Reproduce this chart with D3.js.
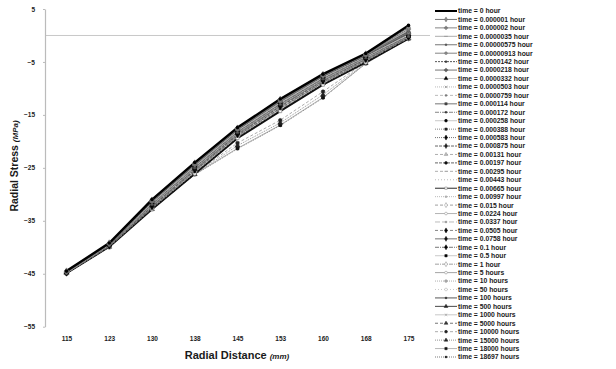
<!DOCTYPE html>
<html>
<head>
<meta charset="utf-8">
<script src="https://cdn.jsdelivr.net/npm/d3@7"></script>
<style>
  html, body { margin: 0; padding: 0; background: #fff; }
  svg { display: block; font-family: "Liberation Sans", Arial, sans-serif; }
</style>
</head>
<body>
<svg id="chart" width="616" height="369"></svg>
<script>
// Radial distance categories (mm)
const distances = ['115', '123', '130', '138', '145', '153', '160', '168', '175'];

// Y-axis tick values (MPa)
const yTicks = [5, -5, -15, -25, -35, -45, -55];

// Time steps, one series each
const timeLabels = [
  'time = 0 hour', 'time = 0.000001 hour', 'time = 0.000002 hour', 'time = 0.0000035 hour',
  'time = 0.00000575 hour', 'time = 0.00000913 hour', 'time = 0.0000142 hour', 'time = 0.0000218 hour',
  'time = 0.0000332 hour', 'time = 0.0000503 hour', 'time = 0.0000759 hour', 'time = 0.000114 hour',
  'time = 0.000172 hour', 'time = 0.000258 hour', 'time = 0.000388 hour', 'time = 0.000583 hour',
  'time = 0.000875 hour', 'time = 0.00131 hour', 'time = 0.00197 hour', 'time = 0.00295 hour',
  'time = 0.00443 hour', 'time = 0.00665 hour', 'time = 0.00997 hour', 'time = 0.015 hour',
  'time = 0.0224 hour', 'time = 0.0337 hour', 'time = 0.0505 hour', 'time = 0.0758 hour',
  'time = 0.1 hour', 'time = 0.5 hour', 'time = 1 hour', 'time = 5 hours',
  'time = 10 hours', 'time = 50 hours', 'time = 100 hours', 'time = 500 hours',
  'time = 1000 hours', 'time = 5000 hours', 'time = 10000 hours', 'time = 15000 hours',
  'time = 18000 hours', 'time = 18697 hours'
];

// Radial stress (MPa) per time step, one value per radial distance
const stressSeries = [
  [-44.5, -39.2, -31.0, -24.0, -17.4, -12.0, -7.3, -3.4, 1.9],
  [-44.5, -39.2, -31.1, -24.1, -17.5, -12.1, -7.4, -3.5, 1.5],
  [-44.6, -39.3, -31.1, -24.2, -17.5, -12.2, -7.4, -3.5, 1.2],
  [-44.6, -39.3, -31.2, -24.2, -17.6, -12.2, -7.5, -3.6, 1.0],
  [-44.6, -39.3, -31.2, -24.3, -17.6, -12.3, -7.5, -3.6, 0.8],
  [-44.6, -39.4, -31.3, -24.4, -17.7, -12.4, -7.6, -3.7, 0.6],
  [-44.6, -39.4, -31.4, -24.4, -17.8, -12.4, -7.7, -3.8, 0.5],
  [-44.7, -39.4, -31.4, -24.5, -17.8, -12.5, -7.7, -3.8, 0.3],
  [-44.7, -39.5, -31.5, -24.6, -17.9, -12.6, -7.8, -3.9, 0.2],
  [-44.7, -39.5, -31.6, -24.7, -18.0, -12.7, -7.9, -4.0, 0.1],
  [-44.7, -39.5, -31.7, -24.8, -18.1, -12.8, -8.0, -4.0, 0.0],
  [-44.7, -39.6, -31.8, -24.9, -18.2, -12.9, -8.1, -4.1, -0.1],
  [-44.7, -39.6, -31.9, -25.0, -18.3, -13.0, -8.2, -4.2, -0.1],
  [-44.8, -39.6, -32.0, -25.1, -18.4, -13.1, -8.3, -4.3, -0.2],
  [-44.8, -39.7, -32.1, -25.2, -18.5, -13.2, -8.4, -4.3, -0.2],
  [-44.8, -39.7, -32.2, -25.3, -18.6, -13.3, -8.5, -4.4, -0.3],
  [-44.8, -39.7, -32.3, -25.4, -18.7, -13.4, -8.6, -4.5, -0.3],
  [-44.8, -39.8, -32.4, -25.5, -18.8, -13.5, -8.7, -4.6, -0.4],
  [-44.8, -39.8, -32.5, -25.6, -18.9, -13.7, -8.8, -4.7, -0.4],
  [-44.9, -39.8, -32.6, -25.8, -19.0, -13.8, -8.9, -4.8, -0.5],
  [-44.9, -39.9, -32.7, -25.9, -19.2, -14.0, -9.1, -4.9, -0.5],
  [-44.9, -39.9, -32.8, -26.1, -19.4, -14.3, -9.3, -5.1, -0.6],
  [-44.9, -39.9, -32.7, -26.0, -19.3, -14.2, -9.2, -5.0, -0.6],
  [-44.9, -39.8, -32.6, -25.9, -19.1, -14.0, -9.0, -4.9, -0.5],
  [-44.8, -39.8, -32.5, -25.7, -19.0, -13.8, -8.9, -4.8, -0.5],
  [-44.8, -39.8, -32.4, -25.6, -18.9, -13.6, -8.8, -4.7, -0.4],
  [-44.8, -39.7, -32.3, -25.4, -18.7, -13.4, -8.6, -4.5, -0.4],
  [-44.8, -39.7, -32.1, -25.2, -18.5, -13.2, -8.4, -4.4, -0.3],
  [-44.7, -39.6, -32.0, -25.1, -18.4, -13.1, -8.3, -4.3, -0.3],
  [-44.7, -39.6, -31.8, -24.9, -18.2, -12.9, -8.1, -4.1, -0.2],
  [-44.7, -39.5, -31.7, -24.7, -18.0, -12.7, -7.9, -4.0, -0.2],
  [-44.7, -39.5, -31.5, -24.6, -17.9, -12.6, -7.8, -3.9, -0.1],
  [-44.6, -39.4, -31.4, -24.5, -17.8, -12.5, -7.7, -3.8, 0.0],
  [-44.6, -39.4, -31.3, -24.3, -17.7, -12.3, -7.6, -3.7, 0.2],
  [-44.6, -39.3, -31.2, -24.2, -17.6, -12.2, -7.5, -3.6, 0.4],
  [-44.6, -39.3, -31.1, -24.1, -17.5, -12.1, -7.4, -3.5, 0.7],
  [-44.7, -39.5, -31.6, -24.8, -18.3, -13.0, -8.2, -4.2, -0.3],
  [-44.8, -39.7, -32.2, -25.5, -19.0, -13.9, -9.0, -4.7, -0.5],
  [-44.9, -39.9, -32.7, -26.1, -20.3, -16.0, -10.6, -5.0, -0.5],
  [-44.9, -39.9, -32.8, -26.2, -20.8, -16.5, -11.2, -5.2, -0.6],
  [-44.9, -40.0, -32.8, -26.2, -21.3, -16.9, -11.7, -5.3, -0.6],
  [-44.9, -40.0, -32.8, -26.3, -21.4, -17.0, -11.8, -5.3, -0.6]
];

// Line and marker style per series: [stroke, width, dash, marker, marker fill, marker stroke]
const seriesStyles = [
  ['#000', 2.4, '', 'none', '#000', '#000'],
  ['#666', 1.0, '', 'diamond', '#888', '#666'],
  ['#777', 1.0, '', 'cross', '#777', '#777'],
  ['#999', 0.8, '', 'dash', '#777', '#777'],
  ['#666', 1.0, '', 'dot', '#555', '#555'],
  ['#777', 1.0, '', 'circle', '#888', '#777'],
  ['#444', 0.9, '2,1', 'dot', '#333', '#333'],
  ['#666', 1.0, '', 'cross', '#555', '#555'],
  ['#bbb', 0.8, '', 'triangle', '#000', '#000'],
  ['#aaa', 0.8, '1,1', 'x', '#666', '#666'],
  ['#aaa', 0.8, '3,2', 'dot', '#777', '#777'],
  ['#666', 1.0, '', 'square', '#444', '#444'],
  ['#777', 0.9, '4,1,1,1', 'dot', '#333', '#333'],
  ['#bbb', 0.8, '', 'circle', '#000', '#000'],
  ['#777', 0.9, '1,1', 'square', '#222', '#222'],
  ['#666', 0.9, '1,1', 'diamond', '#000', '#000'],
  ['#555', 0.9, '3,1', 'diamond', '#222', '#222'],
  ['#999', 0.8, '3,2', 'triangle', '#bbb', '#999'],
  ['#555', 0.9, '3,1', 'circle', '#111', '#111'],
  ['#999', 0.8, '3,2', 'dash', '#999', '#999'],
  ['#aaa', 0.8, '1,2', 'none', '#aaa', '#aaa'],
  ['#111', 2.0, '', 'square', '#fff', '#777'],
  ['#aaa', 0.8, '1,1', 'dot', '#aaa', '#aaa'],
  ['#888', 0.8, '3,2', 'diamond', '#fff', '#888'],
  ['#aaa', 0.9, '', 'circle', '#fff', '#888'],
  ['#aaa', 0.8, '5,2', 'dot', '#999', '#999'],
  ['#777', 0.9, '3,2', 'diamond', '#000', '#000'],
  ['#666', 1.0, '', 'diamond', '#111', '#111'],
  ['#666', 0.9, '4,1,1,1', 'diamond', '#000', '#000'],
  ['#bbb', 0.8, '', 'square', '#000', '#000'],
  ['#888', 0.8, '4,1,1,1', 'diamond', '#fff', '#888'],
  ['#999', 1.0, '', 'circle', '#fff', '#888'],
  ['#999', 0.8, '1,1', 'circle', '#aaa', '#999'],
  ['#bbb', 0.8, '1,2', 'circle', '#fff', '#aaa'],
  ['#444', 1.0, '', 'dot', '#333', '#333'],
  ['#333', 1.0, '', 'triangle', '#222', '#222'],
  ['#bbb', 0.8, '', 'x', '#888', '#888'],
  ['#666', 0.9, '3,2', 'triangle', '#333', '#333'],
  ['#888', 0.7, '3,2', 'circle', '#222', '#222'],
  ['#666', 0.7, '1,1', 'triangle', '#222', '#222'],
  ['#999', 0.7, '', 'square', '#111', '#111'],
  ['#444', 0.7, '1,1', 'dot', '#111', '#111']
];

const svg = d3.select('#chart');

const x = d3.scalePoint().domain(distances).range([66.5, 408.5]);
const y = d3.scaleLinear().domain([-55, 5]).range([326.7, 9]);

// Marker path builder; k scales the symbol area
function markerPath(kind, k) {
  const s = {
    diamond: d3.symbol(d3.symbolDiamond, 12 * k),
    cross: d3.symbol(d3.symbolCross, 10 * k),
    circle: d3.symbol(d3.symbolCircle, 10 * k),
    dot: d3.symbol(d3.symbolCircle, 5 * k),
    triangle: d3.symbol(d3.symbolTriangle, 10 * k),
    square: d3.symbol(d3.symbolSquare, 9 * k),
    x: d3.symbol(d3.symbolTimes || d3.symbolCross, 8 * k)
  };
  if (kind === 'dash') return 'M-1.8,0H1.8';
  if (kind === 'none') return null;
  return s[kind]();
}

// Zero reference line
svg.append('line')
  .attr('x1', 45).attr('x2', 430)
  .attr('y1', y(0)).attr('y2', y(0))
  .attr('stroke', '#c8c8c8').attr('stroke-width', 1);

// Y axis
const yAxis = svg.append('g')
  .attr('transform', 'translate(45,0)')
  .call(d3.axisLeft(y).tickValues(yTicks).tickSize(2).tickSizeOuter(0).tickPadding(8)
    .tickFormat(d3.format('d')));
yAxis.select('.domain').attr('stroke', '#bbb').attr('stroke-width', 1.2);
yAxis.selectAll('.tick line').attr('stroke', '#bbb');
yAxis.selectAll('.tick text')
  .attr('font-size', 6.5).attr('font-weight', 'bold').attr('fill', '#222')
  .attr('font-family', '"Liberation Sans", Arial, sans-serif');

// X axis (labels only)
const xAxis = svg.append('g')
  .attr('transform', 'translate(0,333)')
  .call(d3.axisBottom(x).tickSize(0).tickPadding(3));
xAxis.select('.domain').remove();
xAxis.selectAll('.tick text')
  .attr('font-size', 6.5).attr('font-weight', 'bold').attr('fill', '#222')
  .attr('font-family', '"Liberation Sans", Arial, sans-serif');

// Series lines (drawn last-to-first so time = 0 ends on top)
const line = d3.line().x((d, i) => x(distances[i])).y(d => y(d));
const plot = svg.append('g');
const order = d3.range(stressSeries.length).reverse();
order.forEach(k => {
  const st = seriesStyles[k];
  plot.append('path')
    .attr('d', line(stressSeries[k]))
    .attr('fill', 'none')
    .attr('stroke', st[0])
    .attr('stroke-width', st[1])
    .attr('stroke-dasharray', st[2] || null)
    .attr('stroke-linejoin', 'round');
});
order.forEach(k => {
  const st = seriesStyles[k];
  const p = markerPath(st[3], 1);
  if (!p) return;
  plot.append('g').selectAll('path')
    .data(stressSeries[k])
    .join('path')
    .attr('transform', (d, i) => `translate(${x(distances[i])},${y(d)})`)
    .attr('d', p)
    .attr('fill', st[4])
    .attr('stroke', st[5])
    .attr('stroke-width', 0.6);
});
// Solid point markers of the time = 0 profile
plot.append('g').selectAll('circle')
  .data(stressSeries[0])
  .join('circle')
  .attr('cx', (d, i) => x(distances[i]))
  .attr('cy', d => y(d))
  .attr('r', 1.8)
  .attr('fill', '#000');

// Legend
const legend = svg.append('g');
const legendY = d3.scaleLinear().domain([0, timeLabels.length - 1]).range([11, 357]);
timeLabels.forEach((label, k) => {
  const st = seriesStyles[k];
  const g = legend.append('g').attr('transform', `translate(0,${legendY(k)})`);
  g.append('line')
    .attr('x1', 435).attr('x2', 457).attr('y1', 0).attr('y2', 0)
    .attr('stroke', st[0])
    .attr('stroke-width', k === 0 ? 2 : Math.min(st[1], 0.9))
    .attr('stroke-dasharray', st[2] || null);
  const p = markerPath(st[3], 0.6);
  if (p) {
    g.append('path')
      .attr('transform', 'translate(446,0)')
      .attr('d', p)
      .attr('fill', st[4])
      .attr('stroke', st[5])
      .attr('stroke-width', 0.5);
  }
  g.append('text')
    .attr('x', 458).attr('y', 2.4)
    .attr('font-size', 6.8).attr('font-weight', 'bold').attr('fill', '#1a1a1a')
    .text(label);
});

// Axis titles
const xt = svg.append('text')
  .attr('x', 237).attr('y', 359)
  .attr('text-anchor', 'middle')
  .attr('font-weight', 'bold').attr('font-size', 11).attr('fill', '#1a1a1a');
xt.append('tspan').text('Radial Distance ');
xt.append('tspan').attr('font-size', 8).attr('font-style', 'italic').text('(mm)');

const yt = svg.append('text')
  .attr('transform', 'translate(18,166) rotate(-90)')
  .attr('text-anchor', 'middle')
  .attr('font-weight', 'bold').attr('font-size', 10.5).attr('fill', '#1a1a1a');
yt.append('tspan').text('Radial Stress ');
yt.append('tspan').attr('font-size', 8).attr('font-style', 'italic').text('(MPa)');
</script>
</body>
</html>
